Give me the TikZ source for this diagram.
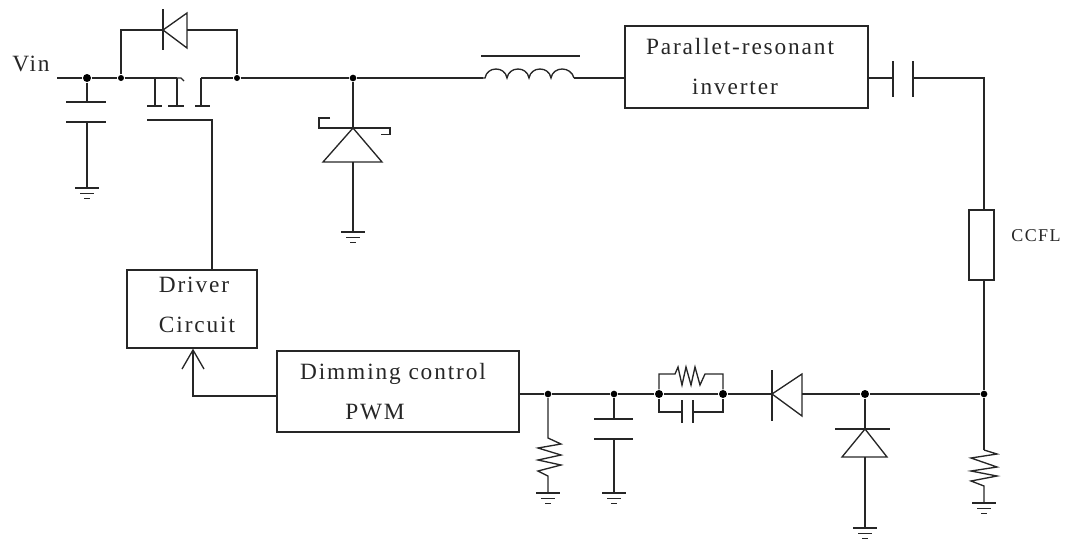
\documentclass[tikz,border=0pt]{standalone}
\usepackage{fontspec}
\setmainfont[LetterSpace=8]{Liberation Serif}
\begin{document}
\begin{tikzpicture}[x=0.75pt,y=-0.75pt,line width=1pt,line join=miter,
  wire/.style={draw=black!85},
  dotj/.style={circle,fill=black,inner sep=0pt,minimum size=6pt},
  lbl/.style={inner sep=0pt,font=\fontsize{17.5pt}{19pt}\selectfont,text=black!85},
  pics/gnd/.style={code={
    \draw[wire] (-12,0)--(12,0) (-7,5.5)--(7,5.5) (-3,10.5)--(3,10.5);}}]
\useasboundingbox (0,0) rectangle (1066,540);

% blocks
\node[draw=black!85,minimum width=97.5pt,minimum height=58.5pt,inner sep=0pt] (drv) at (192,309) {};
\node[draw=black!85,minimum width=181.5pt,minimum height=60.75pt,inner sep=0pt] (pwm) at (398,391.5) {};
\node[draw=black!85,minimum width=182.25pt,minimum height=61.5pt,inner sep=0pt] (inv) at (746.5,67) {};
\node[draw=black!85,minimum width=18.75pt,minimum height=52.5pt,inner sep=0pt] (ccfl) at (981.5,245) {};

% labels
\node[lbl,anchor=base] (tvin) at (31,71) {Vin};
\node[lbl,anchor=base] (tdr) at (194,292) {Driver};
\node[lbl,anchor=base] (tci) at (197,332) {Circuit};
\node[lbl,anchor=base] (tdim) at (393,379) {Dimming control};
\node[lbl,anchor=base] (tpwm) at (375,419) {PWM};
\node[lbl,anchor=base] (tpar) at (740,54) {Parallet-resonant};
\node[lbl,anchor=base] (tinv) at (735,94) {inverter};
\node[lbl,anchor=base,font=\fontsize{13.5pt}{15pt}\selectfont] (tccfl) at (1036,241) {CCFL};

% junctions
\node[dotj] (j1) at (87,78) {};
\node[dotj,minimum size=4.5pt] (j2) at (121,78) {};
\node[dotj,minimum size=4.5pt] (j3) at (237,78) {};
\node[dotj,minimum size=5pt] (j4) at (353,78) {};
\node[dotj,minimum size=5pt] (j5) at (548,394) {};
\node[dotj,minimum size=5pt] (j6) at (614,394) {};
\node[dotj] (j7) at (659,394) {};
\node[dotj] (j8) at (723,394) {};
\node[dotj] (j9) at (865,394) {};
\node[dotj,minimum size=5pt] (j10) at (984,394) {};

% coordinates
\coordinate (vin) at (57,78);
\coordinate (c1a) at (87,102);
\coordinate (c1b) at (87,122);
\coordinate (g1) at (87,188);
\coordinate (s1) at (155,78);
\coordinate (s2) at (177,78);
\coordinate (s3) at (201,78);
\coordinate (by1) at (121,30);
\coordinate (by2) at (237,30);
\coordinate (d1k) at (163,30);
\coordinate (d1a) at (187,30);
\coordinate (gate) at (212,120);
\coordinate (z1k) at (353,128);
\coordinate (z1a) at (353,162);
\coordinate (g2) at (353,232);
\coordinate (l1) at (483,78);
\coordinate (l2) at (574,78);
\coordinate (c2a) at (893,78);
\coordinate (c2b) at (913,78);
\coordinate (tr) at (984,78);
\coordinate (r3a) at (984,450);
\coordinate (r3b) at (984,486);
\coordinate (g3) at (984,503);
\coordinate (d2k) at (772,394);
\coordinate (d2a) at (802,394);
\coordinate (d3k) at (865,429);
\coordinate (d3a) at (865,457);
\coordinate (g4) at (865,528);
\coordinate (r1a) at (548,438);
\coordinate (r1b) at (548,476);
\coordinate (g5) at (548,493);
\coordinate (c3a) at (614,419);
\coordinate (c3b) at (614,439);
\coordinate (g6) at (614,493);
\coordinate (pu1) at (659,374);
\coordinate (pu2) at (723,374);
\coordinate (pd1) at (659,412);
\coordinate (pd2) at (723,412);
\coordinate (c4a) at (682,412);
\coordinate (c4b) at (693,412);
\coordinate (r2a) at (675,374);
\coordinate (r2b) at (705,374);
\coordinate (tip) at (193,350);
\coordinate (elb) at (193,396);

% top rail
\draw[wire] (vin)--(j1)--(j2)--(s2);
\draw[wire] (s3)--(j3)--(j4)--(l1);
\draw[wire] (j1)--(c1a) (c1b)--(g1);
\draw[wire] (66,102)--(106,102) (66,122)--(106,122);
\pic at (g1) {gnd};
% mosfet
\draw[wire] (s1)--(155,106) (147,106)--(162,106);
\draw[wire] (s2)--(177,106) (168,106)--(184,106);
\draw[wire] (s2)--(181,78)--(184,81);
\draw[wire] (s3)--(201,106) (195,106)--(210,106);
\draw[wire] (147,120)--(gate)--(gate|-drv.north);
% bypass diode
\draw[wire] (j2)--(by1)--(d1k);
\draw[wire] (163,9)--(163,50);
\draw[wire] (d1k)--(187,13)--(187,48)--cycle;
\draw[wire] (d1a)--(by2)--(j3);
% zener
\draw[wire] (j4)--(z1k);
\draw[wire] (330,118)--(319,118)--(319,128)--(390,128)--(390,134.5)--(381,134.5);
\draw[wire] (z1k)--(323,162)--(382,162)--cycle;
\draw[wire] (z1a)--(g2);
\pic at (g2) {gnd};
% inductor
\draw[wire] (481,56)--(580,56);
\draw[wire] (l1)--(485,78) .. controls (487,66) and (505,66) .. (507,78)
  .. controls (509,66) and (527,66) .. (529,78)
  .. controls (531,66) and (549,66) .. (551,78)
  .. controls (553,66) and (571,66) .. (l2);
\draw[wire] (l2)--(l2-|inv.west);
\draw[wire] (inv.east|-c2a)--(c2a) (893,61)--(893,97);
\draw[wire] (913,61)--(913,97) (c2b)--(tr)--(tr|-ccfl.north);
\draw[wire] (tr|-ccfl.south)--(j10)--(r3a);
\draw[wire] (r3a)--(997,454)--(971,458)--(997,467)--(971,471)--(997,476)--(971,481)--(r3b)--(g3);
\pic at (g3) {gnd};
% bottom rail
\draw[wire] (j10)--(j9)--(d2a);
\draw[wire] (d2a)--(802,374)--(d2k)--(802,416)--(d2a);
\draw[wire] (772,370)--(772,421);
\draw[wire] (d2k)--(j8)--(j7)--(j6)--(j5)--(pwm.east|-j5);
\draw[wire] (j9)--(d3k) (835,429)--(890,429);
\draw[wire] (d3k)--(842,457)--(887,457)--cycle;
\draw[wire] (d3a)--(g4);
\pic at (g4) {gnd};
\draw[wire] (j5)--(r1a)--(561,444)--(538,448)--(561,455)--(538,460)--(561,465)--(538,471)--(r1b)--(g5);
\pic at (g5) {gnd};
\draw[wire] (j6)--(c3a) (594,419)--(633,419) (594,439)--(633,439) (c3b)--(g6);
\pic at (g6) {gnd};
\draw[wire] (j7)--(pu1)--(r2a)--(678,367)--(682,385)--(686,367)--(691,385)--(695,367)--(700,385)--(r2b)--(pu2)--(j8);
\draw[wire] (j7)--(pd1)--(c4a) (682,400)--(682,423) (693,400)--(693,423) (c4b)--(pd2)--(j8);
% pwm to driver
\draw[wire] (pwm.west|-elb)--(elb)--(tip);
\draw[wire] (182,369)--(tip)--(204,369);
\end{tikzpicture}
\end{document}
